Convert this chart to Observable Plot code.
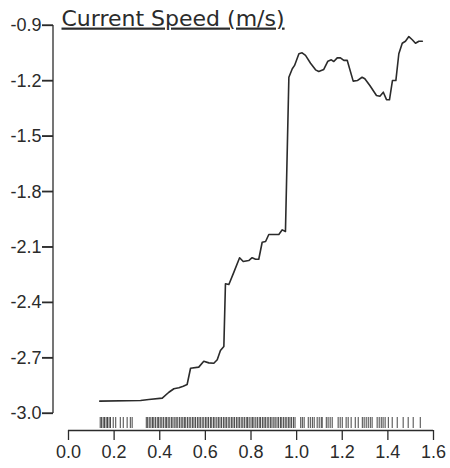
<!DOCTYPE html>
<html>
<head>
<meta charset="utf-8">
<script src="https://cdn.jsdelivr.net/npm/d3@7"></script>
<script src="https://cdn.jsdelivr.net/npm/@observablehq/plot@0.6"></script>
<style>
  body { margin: 0; background: #fff; }
  .title text { text-decoration: underline; text-decoration-thickness: 1.5px; }
</style>
</head>
<body>
<script>
// partial dependence curve
const speed = [0.137, 0.316, 0.352, 0.411, 0.440, 0.462, 0.484, 0.503, 0.520, 0.535,
  0.571, 0.593, 0.615, 0.637, 0.652, 0.666, 0.681, 0.688, 0.703, 0.725,
  0.750, 0.766, 0.790, 0.805, 0.820, 0.834, 0.849, 0.864, 0.878, 0.922,
  0.937, 0.951, 0.966, 0.981, 0.991, 1.010, 1.024, 1.039, 1.061, 1.083,
  1.097, 1.119, 1.137, 1.152, 1.163, 1.178, 1.192, 1.207, 1.222, 1.248,
  1.266, 1.287, 1.299, 1.321, 1.350, 1.365, 1.380, 1.394, 1.407, 1.420,
  1.435, 1.448, 1.463, 1.477, 1.492, 1.507, 1.521, 1.536, 1.551];
const effect = [-2.933, -2.930, -2.924, -2.917, -2.885, -2.866, -2.861, -2.852, -2.843, -2.755,
  -2.749, -2.717, -2.726, -2.728, -2.709, -2.659, -2.637, -2.298, -2.302, -2.235,
  -2.157, -2.177, -2.172, -2.157, -2.165, -2.165, -2.073, -2.069, -2.031, -2.031,
  -2.006, -2.015, -1.180, -1.134, -1.116, -1.053, -1.048, -1.062, -1.104, -1.140,
  -1.149, -1.138, -1.093, -1.086, -1.095, -1.075, -1.075, -1.089, -1.089, -1.201,
  -1.198, -1.180, -1.188, -1.225, -1.279, -1.283, -1.261, -1.301, -1.302, -1.198,
  -1.198, -1.053, -0.996, -0.985, -0.960, -0.977, -0.996, -0.985, -0.985];

// observed speeds (rug)
const rug = [0.139, 0.145, 0.152, 0.158, 0.165, 0.171, 0.178, 0.184, 0.196, 0.207,
  0.227, 0.240, 0.257, 0.271, 0.279, 0.341, 0.347,
  0.354, 0.361, 0.368, 0.374, 0.381, 0.389, 0.395, 0.402, 0.409, 0.416,
  0.424, 0.430, 0.437, 0.444, 0.452, 0.458, 0.466, 0.472, 0.479, 0.487,
  0.494, 0.501, 0.508, 0.514, 0.522, 0.529, 0.536, 0.544, 0.550, 0.557,
  0.565, 0.572, 0.578, 0.586, 0.593, 0.601, 0.607, 0.614, 0.622, 0.628,
  0.636, 0.642, 0.650, 0.657, 0.664, 0.671, 0.679, 0.686, 0.692, 0.700,
  0.707, 0.715, 0.721, 0.728, 0.736, 0.743, 0.749, 0.757, 0.764, 0.771,
  0.779, 0.785, 0.792, 0.800, 0.807, 0.813, 0.821, 0.828, 0.836, 0.842,
  0.850, 0.857, 0.863, 0.871, 0.878, 0.886, 0.892, 0.900, 0.906, 0.914,
  0.921, 0.929, 0.935, 0.943, 0.950, 0.957, 0.965, 0.971, 0.978, 0.986, 0.993,
  1.018, 1.025, 1.033, 1.051, 1.060, 1.069, 1.077, 1.090, 1.099, 1.108,
  1.112, 1.130, 1.138, 1.147, 1.156, 1.182, 1.191, 1.200, 1.217, 1.226,
  1.239, 1.257, 1.270, 1.288, 1.296, 1.305, 1.314, 1.323, 1.331, 1.353,
  1.362, 1.371, 1.379, 1.388, 1.402, 1.419, 1.441, 1.467, 1.489, 1.511, 1.542];

const xTicks = [0, 0.2, 0.4, 0.6, 0.8, 1.0, 1.2, 1.4, 1.6];
const yTicks = [-3.0, -2.7, -2.4, -2.1, -1.8, -1.5, -1.2, -0.9];
const title = "Current Speed (m/s)";

const ink = "#2b2b2b";
const tickFont = {fontFamily: "'Liberation Sans', Arial, sans-serif", fontSize: 18};

let chart = Plot.plot({
  width: 450,
  height: 468,
  marginLeft: 53,
  marginRight: 17,
  marginTop: 25,
  marginBottom: 38,
  x: {domain: [xTicks[0], xTicks[xTicks.length - 1]], insetLeft: 15},
  y: {domain: [yTicks[0], yTicks[yTicks.length - 1]], insetBottom: 17},
  marks: [
    Plot.axisY(yTicks, {tickSize: 11, tickPadding: 1, tickFormat: d => d.toFixed(1), label: null, stroke: ink, fill: ink, strokeWidth: 1.3, ...tickFont}),
    Plot.axisX(xTicks, {tickSize: 10, tickPadding: 5, tickFormat: d => d.toFixed(1), label: null, stroke: ink, fill: ink, strokeWidth: 1.3, ...tickFont}),
    Plot.ruleY([yTicks[0]], {x1: xTicks[0], x2: xTicks[xTicks.length - 1], dy: 17, stroke: ink, strokeWidth: 1.3}),
    // rug
    Plot.ruleX(rug, {x: d => d, insetTop: 392, insetBottom: 2, stroke: "#444", strokeWidth: 1}),
    Plot.line(speed.map((s, i) => ({s, e: effect[i]})), {x: "s", y: "e", stroke: ink, strokeWidth: 1.6}),
    Plot.text([title], {frameAnchor: "top-left", textAnchor: "start", lineAnchor: "middle", dx: 8, dy: -7,
      fontFamily: "'DejaVu Sans', Verdana, sans-serif", fontSize: 22, fill: ink, className: "title"})
  ]
});

// y axis line and ticks drawn on top, placed with Plot's own y scale
const ys = chart.scale("y");
const axisX0 = 53;
const g = d3.select(chart).append("g").attr("stroke", ink).attr("stroke-width", 1.3);
g.append("line")
  .attr("x1", axisX0).attr("x2", axisX0)
  .attr("y1", ys.apply(yTicks[0])).attr("y2", ys.apply(yTicks[yTicks.length - 1]));
g.selectAll(".yt").data(yTicks).join("line")
  .attr("x1", axisX0 - 11).attr("x2", axisX0)
  .attr("y1", d => ys.apply(d)).attr("y2", d => ys.apply(d));

document.body.appendChild(chart);
</script>
</body>
</html>
